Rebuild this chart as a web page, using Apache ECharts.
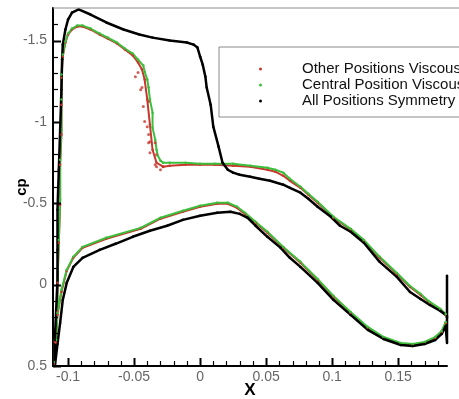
<!DOCTYPE html>
<html>
<head>
<meta charset="utf-8">
<script src="https://cdn.jsdelivr.net/npm/echarts@6/dist/echarts.min.js"></script>
<style>
  html, body { margin: 0; padding: 0; background: #fff; }
  #chart { width: 459px; height: 399px; }
</style>
</head>
<body>
<div id="chart"></div>
<script>
const seriesNames = ["Other Positions Viscous", "Central Position Viscous", "All Positions Symmetry"];

const xMajorTicks = [-0.1, -0.05, 0, 0.05, 0.1, 0.15];
const xMinorTicks = [-0.11, -0.09, -0.08, -0.07, -0.06, -0.04, -0.03, -0.02, -0.01,
  0.01, 0.02, 0.03, 0.04, 0.06, 0.07, 0.08, 0.09, 0.11, 0.12, 0.13, 0.14, 0.16, 0.17, 0.18];
const yMajorTicks = [-1.5, -1, -0.5, 0, 0.5];
const yMinorTicks = [-1.6, -1.4, -1.3, -1.2, -1.1, -0.9, -0.8, -0.7, -0.6,
  -0.4, -0.3, -0.2, -0.1, 0.1, 0.2, 0.3, 0.4];

// [x, cp] — suction side from trailing edge to leading edge
const redUpper = [
  [0.186, 0.186], [0.182, 0.155], [0.174, 0.112], [0.167, 0.063], [0.159, 0.014],
  [0.149, -0.066], [0.136, -0.165], [0.124, -0.269], [0.114, -0.337], [0.101, -0.411],
  [0.089, -0.503], [0.082, -0.552], [0.076, -0.595], [0.068, -0.638], [0.063, -0.669],
  [0.057, -0.694], [0.051, -0.706], [0.038, -0.725], [0.025, -0.731], [0.011, -0.737],
  [0.000, -0.737], [-0.011, -0.737], [-0.023, -0.731], [-0.028, -0.725], [-0.033, -0.749],
  [-0.036, -0.829], [-0.038, -0.983], [-0.040, -1.137], [-0.042, -1.26], [-0.044, -1.322],
  [-0.047, -1.365], [-0.051, -1.408], [-0.057, -1.445], [-0.063, -1.482], [-0.070, -1.512],
  [-0.076, -1.537], [-0.083, -1.568], [-0.089, -1.586], [-0.093, -1.586], [-0.097, -1.568],
  [-0.100, -1.537], [-0.102, -1.488], [-0.104, -1.402], [-0.105, -1.272], [-0.105, -1.106],
  [-0.105, -0.922], [-0.106, -0.737], [-0.106, -0.491], [-0.107, -0.257], [-0.108, -0.011],
  [-0.108, 0.168], [-0.109, 0.358], [-0.110, 0.488]
];
const redLower = [
  [-0.110, 0.352], [-0.108, 0.186], [-0.105, 0.045], [-0.101, -0.085], [-0.096, -0.165],
  [-0.089, -0.226], [-0.071, -0.282], [-0.045, -0.343], [-0.030, -0.405], [-0.013, -0.448],
  [0.000, -0.479], [0.013, -0.497], [0.021, -0.497], [0.028, -0.472], [0.034, -0.435],
  [0.042, -0.38], [0.051, -0.319], [0.063, -0.226], [0.076, -0.134], [0.089, -0.029],
  [0.101, 0.075], [0.114, 0.174], [0.127, 0.266], [0.139, 0.328], [0.152, 0.365],
  [0.161, 0.371], [0.170, 0.358], [0.178, 0.328], [0.183, 0.291], [0.186, 0.236]
];
const redShock = [
  [-0.049, -1.278], [-0.047, -1.303], [-0.045, -1.198], [-0.044, -1.211], [-0.043, -1.094],
  [-0.039, -1.125], [-0.042, -1.002], [-0.040, -0.971], [-0.039, -0.922], [-0.039, -0.872],
  [-0.038, -0.878], [-0.038, -0.811], [-0.034, -0.872], [-0.033, -0.798], [-0.034, -0.737],
  [-0.033, -0.725], [-0.030, -0.706], [-0.028, -0.725]
];

const greenUpper = [
  [0.186, 0.18], [0.182, 0.149], [0.174, 0.106], [0.167, 0.057], [0.159, 0.008],
  [0.149, -0.072], [0.136, -0.171], [0.124, -0.275], [0.114, -0.343], [0.101, -0.417],
  [0.089, -0.509], [0.082, -0.558], [0.076, -0.602], [0.068, -0.651], [0.063, -0.688],
  [0.057, -0.706], [0.051, -0.718], [0.038, -0.731], [0.025, -0.743], [0.011, -0.743],
  [0.000, -0.743], [-0.011, -0.749], [-0.023, -0.749], [-0.028, -0.749], [-0.030, -0.762],
  [-0.032, -0.792], [-0.033, -0.829], [-0.034, -0.891], [-0.036, -0.965], [-0.036, -1.057],
  [-0.038, -1.137], [-0.039, -1.211], [-0.040, -1.26], [-0.042, -1.309], [-0.043, -1.346],
  [-0.047, -1.383], [-0.051, -1.42], [-0.057, -1.451], [-0.063, -1.488], [-0.070, -1.518],
  [-0.076, -1.543], [-0.083, -1.574], [-0.089, -1.592], [-0.093, -1.592], [-0.097, -1.574],
  [-0.100, -1.543], [-0.102, -1.494], [-0.104, -1.414], [-0.105, -1.291], [-0.105, -1.137],
  [-0.105, -0.952], [-0.106, -0.768], [-0.106, -0.522], [-0.107, -0.275], [-0.108, -0.029],
  [-0.108, 0.155], [-0.109, 0.34], [-0.110, 0.475]
];
const greenLower = [
  [-0.110, 0.34], [-0.108, 0.174], [-0.105, 0.032], [-0.101, -0.091], [-0.096, -0.171],
  [-0.089, -0.232], [-0.071, -0.288], [-0.045, -0.349], [-0.030, -0.411], [-0.013, -0.454],
  [0.000, -0.485], [0.013, -0.503], [0.021, -0.503], [0.028, -0.479], [0.034, -0.442],
  [0.042, -0.386], [0.051, -0.325], [0.063, -0.232], [0.076, -0.14], [0.089, -0.035],
  [0.101, 0.069], [0.114, 0.168], [0.127, 0.26], [0.139, 0.322], [0.152, 0.358],
  [0.161, 0.365], [0.170, 0.352], [0.178, 0.322], [0.183, 0.285], [0.186, 0.229]
];

const blackUpper = [
  [0.187, 0.192], [0.182, 0.162], [0.174, 0.125], [0.167, 0.088], [0.159, 0.045],
  [0.149, -0.048], [0.136, -0.14], [0.124, -0.257], [0.114, -0.325], [0.106, -0.362],
  [0.099, -0.417], [0.089, -0.479], [0.082, -0.528], [0.076, -0.565], [0.068, -0.595],
  [0.063, -0.614], [0.053, -0.638], [0.045, -0.651], [0.038, -0.663], [0.030, -0.675],
  [0.025, -0.688], [0.021, -0.706], [0.017, -0.749], [0.014, -0.848], [0.010, -0.971],
  [0.008, -1.106], [0.005, -1.211], [0.004, -1.278], [0.002, -1.352], [0.000, -1.402],
  [-0.002, -1.457], [-0.005, -1.475], [-0.010, -1.488], [-0.023, -1.5], [-0.036, -1.518],
  [-0.046, -1.537], [-0.058, -1.568], [-0.071, -1.611], [-0.083, -1.66], [-0.092, -1.691],
  [-0.097, -1.672], [-0.100, -1.629], [-0.102, -1.568], [-0.104, -1.475], [-0.1045, -1.383],
  [-0.105, -1.198], [-0.106, -0.952], [-0.107, -0.706], [-0.108, -0.46], [-0.108, -0.214],
  [-0.108, -0.029], [-0.109, 0.155], [-0.110, 0.34], [-0.110, 0.5]
];
const blackLower = [
  [-0.108, 0.365], [-0.106, 0.235], [-0.104, 0.094], [-0.101, -0.011], [-0.096, -0.109],
  [-0.089, -0.165], [-0.076, -0.214], [-0.064, -0.251], [-0.051, -0.294], [-0.038, -0.331],
  [-0.025, -0.362], [-0.013, -0.398], [0.000, -0.423], [0.013, -0.442], [0.023, -0.448],
  [0.030, -0.435], [0.036, -0.411], [0.042, -0.362], [0.051, -0.294], [0.061, -0.226],
  [0.068, -0.165], [0.076, -0.109], [0.089, -0.011], [0.101, 0.094], [0.114, 0.186],
  [0.127, 0.278], [0.139, 0.334], [0.152, 0.371], [0.161, 0.377], [0.170, 0.365],
  [0.178, 0.34], [0.183, 0.303], [0.186, 0.254]
];
const blackTrailingEdge = [[0.187, 0.358], [0.187, 0.2], [0.187, -0.054]];

const colors = ["#c8372d", "#3cbf3c", "#000000"];
const font = "Liberation Sans";
const xMin = -0.1114, xMax = 0.187, yMin = -1.7, yMax = 0.5;

const chart = echarts.init(document.getElementById("chart"));

function curve(name, data, color, width) {
  return {
    name: name,
    type: "line",
    data: data,
    color: color,
    symbol: "circle",
    symbolSize: 2.5,
    lineStyle: { width: width, color: color },
    itemStyle: { color: color },
    emphasis: { disabled: true },
    z: 2
  };
}

chart.setOption({
  animation: false,
  grid: { left: 53, right: 12, top: 8, bottom: 33, outerBoundsMode: "none" },
  legend: {
    data: seriesNames,
    orient: "vertical",
    left: 219,
    top: 47,
    icon: "circle",
    itemWidth: 3,
    itemHeight: 3,
    itemGap: 0,
    selectedMode: false,
    padding: [14, 90, 8, 40],
    borderColor: "#8a8a8a",
    borderWidth: 1,
    backgroundColor: "#fff",
    textStyle: { fontFamily: font, fontSize: 15, color: "#111", lineHeight: 16, padding: [0, 0, 0, 35] }
  },
  xAxis: {
    type: "value",
    min: xMin,
    max: xMax,
    position: "bottom",
    name: "X",
    nameLocation: "middle",
    nameGap: 16,
    nameMoveOverlap: false,
    nameTextStyle: { fontFamily: font, fontSize: 17, fontWeight: "bold", color: "#000" },
    axisLine: { show: true, onZero: false, lineStyle: { color: "#000", width: 2 } },
    axisTick: { show: false },
    axisLabel: { customValues: xMajorTicks, fontFamily: font, fontSize: 14, color: "#666", margin: 4 },
    splitLine: { show: false }
  },
  yAxis: {
    type: "value",
    inverse: true,
    min: yMin,
    max: yMax,
    position: "left",
    name: "cp",
    nameLocation: "middle",
    nameGap: 24,
    nameMoveOverlap: false,
    nameTextStyle: { fontFamily: font, fontSize: 15, fontWeight: "bold", color: "#000" },
    axisLine: { show: true, onZero: false, lineStyle: { color: "#000", width: 2 } },
    axisTick: { show: false },
    axisLabel: { customValues: yMajorTicks, fontFamily: font, fontSize: 14, color: "#666", margin: 6 },
    splitLine: { show: false }
  },
  series: [
    curve(seriesNames[0], redUpper.concat(redLower), colors[0], 2),
    {
      name: seriesNames[0],
      type: "scatter",
      data: redShock,
      symbolSize: 3,
      itemStyle: { color: colors[0] },
      emphasis: { disabled: true },
      z: 2
    },
    curve(seriesNames[1], greenUpper.concat(greenLower), colors[1], 2),
    curve(seriesNames[2], blackUpper.concat(blackLower, blackTrailingEdge), colors[2], 2.5)
  ]
});

// inward ticks and the grey top frame, placed through the axis scales
const x0 = chart.convertToPixel({ xAxisIndex: 0 }, xMin);
const y0 = chart.convertToPixel({ yAxisIndex: 0 }, yMax);
const yTop = chart.convertToPixel({ yAxisIndex: 0 }, yMin);
const tickStyle = w => ({ stroke: "#000", lineWidth: w });
const graphics = [{
  type: "line", z: 5,
  shape: { x1: x0, y1: yTop, x2: 459, y2: yTop },
  style: { stroke: "#8a8a8a", lineWidth: 1 }
}];
xMajorTicks.forEach(v => {
  const px = Math.round(chart.convertToPixel({ xAxisIndex: 0 }, v)) + 0.5;
  graphics.push({ type: "line", z: 5, shape: { x1: px, y1: y0, x2: px, y2: y0 - 8 }, style: tickStyle(2) });
});
xMinorTicks.forEach(v => {
  const px = Math.round(chart.convertToPixel({ xAxisIndex: 0 }, v)) + 0.5;
  graphics.push({ type: "line", z: 5, shape: { x1: px, y1: y0, x2: px, y2: y0 - 5 }, style: tickStyle(1.2) });
});
yMajorTicks.forEach(v => {
  const py = Math.round(chart.convertToPixel({ yAxisIndex: 0 }, v)) + 0.5;
  graphics.push({ type: "line", z: 5, shape: { x1: x0, y1: py, x2: x0 + 8, y2: py }, style: tickStyle(2) });
});
yMinorTicks.forEach(v => {
  const py = Math.round(chart.convertToPixel({ yAxisIndex: 0 }, v)) + 0.5;
  graphics.push({ type: "line", z: 5, shape: { x1: x0, y1: py, x2: x0 + 5, y2: py }, style: tickStyle(1.2) });
});
chart.setOption({ graphic: graphics });
</script>
</body>
</html>
